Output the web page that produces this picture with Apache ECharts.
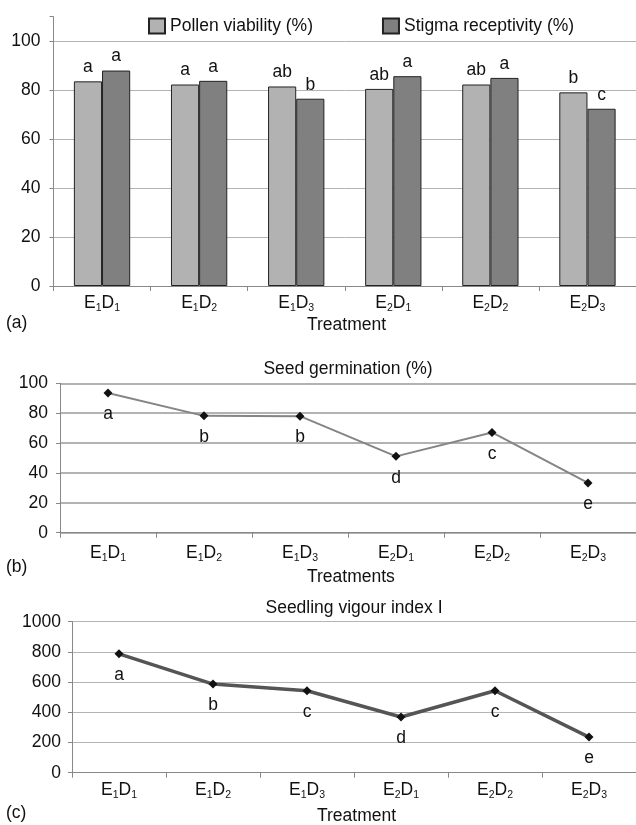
<!DOCTYPE html>
<html>
<head>
<meta charset="utf-8">
<script src="https://cdn.jsdelivr.net/npm/echarts@6/dist/echarts.min.js"></script>
<style>
html,body{margin:0;padding:0;background:#fff;}
#chart{width:636px;height:825px;}
</style>
</head>
<body>
<div id="chart"></div>
<script>
// ---- data ----
var categories = ['E1D1', 'E1D2', 'E1D3', 'E2D1', 'E2D2', 'E2D3'];
var pollenViability = [83.6, 82.3, 81.5, 80.5, 82.3, 79.1];
var stigmaReceptivity = [88.0, 83.8, 76.5, 85.7, 85.0, 72.4];
var pollenLetters = ['a', 'a', 'ab', 'ab', 'ab', 'b'];
var stigmaLetters = ['a', 'a', 'b', 'a', 'a', 'c'];
var seedGermination = [93.5, 78.2, 78.0, 51.1, 67.1, 33.3];
var germinationLetters = ['a', 'b', 'b', 'd', 'c', 'e'];
var vigourIndex = [787, 587, 543, 369, 543, 236];
var vigourLetters = ['a', 'b', 'c', 'd', 'c', 'e'];
var ticksA = [0, 20, 40, 60, 80, 100];
var ticksB = [0, 20, 40, 60, 80, 100];
var ticksC = [0, 200, 400, 600, 800, 1000];

var FONT = "'Liberation Sans', Arial, sans-serif";
var FS = 17.5;
var TXT = '#111';

function subLabel(s) {
  return '{m|' + s.replace(/([A-Z])(\d)/g, '$1}{s|$2}{m|') + '}';
}
function richLabel(margin) {
  return {
    interval: 0,
    margin: margin,
    color: TXT,
    fontFamily: FONT,
    fontSize: FS,
    formatter: function (v) { return subLabel(v); },
    rich: {
      m: { fontSize: FS, fontFamily: FONT, color: TXT, lineHeight: 20, verticalAlign: 'bottom' },
      s: { fontSize: 10.5, fontFamily: FONT, color: TXT, lineHeight: 12, verticalAlign: 'bottom', padding: [0, 0, -2, 0] }
    }
  };
}
function xAxisFor(gi, margin) {
  return {
    type: 'category', gridIndex: gi, data: categories,
    boundaryGap: true,
    axisLine: { show: true, lineStyle: { color: '#888', width: 1 } },
    axisTick: { show: true, interval: 0, length: 5, lineStyle: { color: '#888' } },
    axisLabel: richLabel(margin)
  };
}
function yAxisFor(gi, min, max, interval, margin, gridColor, gridWidth, ticks) {
  return {
    type: 'value', gridIndex: gi, min: min, max: max, interval: interval,
    axisLine: { show: true, lineStyle: { color: '#888', width: 1 } },
    axisTick: { show: true, length: 4, lineStyle: { color: '#888' } },
    axisLabel: {
      margin: margin, color: TXT, fontFamily: FONT, fontSize: FS,
      formatter: function (v) { return ticks.indexOf(v) >= 0 ? String(v) : ''; }
    },
    splitLine: { show: true, showMaxLine: max === ticks[ticks.length - 1], lineStyle: { color: gridColor, width: gridWidth } }
  };
}
function letterFmt(arr) {
  return function (p) { return arr[p.dataIndex]; };
}

var chart = echarts.init(document.getElementById('chart'), null, { renderer: 'canvas' });
var option = {
  animation: false,
  backgroundColor: '#fff',
  textStyle: { fontFamily: FONT },
  grid: [
    { left: 53.5, right: 0, top: 16.7, height: 269.3 },
    { left: 60, right: 0, top: 383.3, height: 149.4 },
    { left: 72, right: 0, top: 621.7, height: 151 }
  ],
  legend: {
    left: 148, top: 17, padding: 0,
    itemWidth: 16, itemHeight: 15, itemGap: 69,
    icon: 'rect',
    textStyle: { fontFamily: FONT, fontSize: FS, color: TXT },
    data: ['Pollen viability (%)', 'Stigma receptivity (%)']
  },
  title: [
    { text: 'Seed germination (%)', left: 348, top: 360, textAlign: 'center', padding: 0,
      textStyle: { fontFamily: FONT, fontSize: FS, fontWeight: 'normal', color: TXT } },
    { text: 'Seedling vigour index I', left: 354, top: 599, textAlign: 'center', padding: 0,
      textStyle: { fontFamily: FONT, fontSize: FS, fontWeight: 'normal', color: TXT } }
  ],
  xAxis: [xAxisFor(0, 6), xAxisFor(1, 9), xAxisFor(2, 6)],
  yAxis: [
    yAxisFor(0, 0, 110, 20, 13, '#b4b4b4', 1, ticksA),
    yAxisFor(1, 0, 100, 20, 12, '#999', 1.5, ticksB),
    yAxisFor(2, 0, 1000, 200, 11, '#b4b4b4', 1, ticksC)
  ],
  graphic: [
    { type: 'text', left: 6, top: 314, style: { text: '(a)', font: FS + 'px ' + FONT, fill: TXT } },
    { type: 'text', left: 307, top: 316, style: { text: 'Treatment', font: FS + 'px ' + FONT, fill: TXT } },
    { type: 'text', left: 6, top: 558, style: { text: '(b)', font: FS + 'px ' + FONT, fill: TXT } },
    { type: 'text', left: 307, top: 568, style: { text: 'Treatments', font: FS + 'px ' + FONT, fill: TXT } },
    { type: 'text', left: 6, top: 804, style: { text: '(c)', font: FS + 'px ' + FONT, fill: TXT } },
    { type: 'text', left: 317, top: 807, style: { text: 'Treatment', font: FS + 'px ' + FONT, fill: TXT } }
  ],
  series: [
    {
      name: 'Pollen viability (%)', type: 'bar', xAxisIndex: 0, yAxisIndex: 0,
      data: pollenViability, barGap: '0%', barCategoryGap: '42%',
      itemStyle: { color: '#b2b2b2', borderColor: '#222', borderWidth: 1 },
      label: { show: true, position: 'top', distance: 5, formatter: letterFmt(pollenLetters),
        fontFamily: FONT, fontSize: FS, color: TXT }
    },
    {
      name: 'Stigma receptivity (%)', type: 'bar', xAxisIndex: 0, yAxisIndex: 0,
      data: stigmaReceptivity, barGap: '0%', barCategoryGap: '42%',
      itemStyle: { color: '#808080', borderColor: '#222', borderWidth: 1 },
      label: { show: true, position: 'top', distance: 5, formatter: letterFmt(stigmaLetters),
        fontFamily: FONT, fontSize: FS, color: TXT }
    },
    {
      name: 'Seed germination (%)', type: 'line', xAxisIndex: 1, yAxisIndex: 1,
      data: seedGermination, symbol: 'diamond', symbolSize: 9,
      lineStyle: { color: '#858585', width: 2 },
      itemStyle: { color: '#111' },
      label: { show: true, position: 'bottom', distance: 8, formatter: letterFmt(germinationLetters),
        fontFamily: FONT, fontSize: FS, color: TXT }
    },
    {
      name: 'Seedling vigour index I', type: 'line', xAxisIndex: 2, yAxisIndex: 2,
      data: vigourIndex, symbol: 'diamond', symbolSize: 9,
      lineStyle: { color: '#555', width: 3.5 },
      itemStyle: { color: '#111' },
      label: { show: true, position: 'bottom', distance: 8, formatter: letterFmt(vigourLetters),
        fontFamily: FONT, fontSize: FS, color: TXT }
    }
  ]
};
chart.setOption(option);
</script>
</body>
</html>
